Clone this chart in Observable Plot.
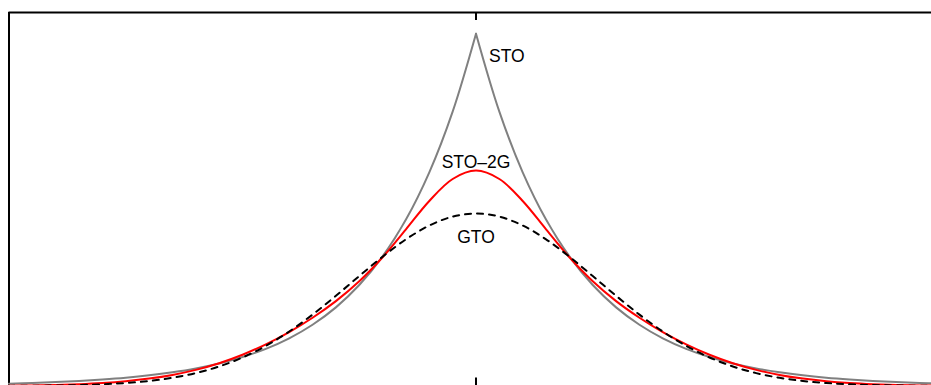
<!DOCTYPE html>
<html>
<head>
<meta charset="utf-8">
<script src="https://cdn.jsdelivr.net/npm/d3@7"></script>
<script src="https://cdn.jsdelivr.net/npm/@observablehq/plot@0.6"></script>
<style>
  html, body { margin: 0; padding: 0; background: #fff; }
  #chart svg { display: block; }
</style>
</head>
<body>
<div id="chart"></div>
<script>
// Radial coordinate r (bohr), sampled every 0.25 from -5 to 5
const r = [
  -5, -4.75, -4.5, -4.25, -4, -3.75, -3.5, -3.25, -3, -2.75, -2.5, -2.25, -2, -1.75, -1.5, -1.25, -1, -0.75, -0.5, -0.25,
  0,
  0.25, 0.5, 0.75, 1, 1.25, 1.5, 1.75, 2, 2.25, 2.5, 2.75, 3, 3.25, 3.5, 3.75, 4, 4.25, 4.5, 4.75, 5
];

// Slater-type orbital (cusp at the nucleus)
const sto = [
  0.0038, 0.0049, 0.0063, 0.0081, 0.0104, 0.0133, 0.0171, 0.0220, 0.0282, 0.0362, 0.0465, 0.0597, 0.0766, 0.0984, 0.1263, 0.1622, 0.2082, 0.2674, 0.3433, 0.4408,
  0.5660,
  0.4408, 0.3433, 0.2674, 0.2082, 0.1622, 0.1263, 0.0984, 0.0766, 0.0597, 0.0465, 0.0362, 0.0282, 0.0220, 0.0171, 0.0133, 0.0104, 0.0081, 0.0063, 0.0049, 0.0038
];

// Two-Gaussian contraction
const sto2g = [
  0.0006, 0.0010, 0.0017, 0.0029, 0.0048, 0.0077, 0.0119, 0.0178, 0.0259, 0.0366, 0.0502, 0.0669, 0.0866, 0.1096, 0.1363, 0.1682, 0.2068, 0.2517, 0.2972, 0.3325,
  0.3460,
  0.3325, 0.2972, 0.2517, 0.2068, 0.1682, 0.1363, 0.1096, 0.0866, 0.0669, 0.0502, 0.0366, 0.0259, 0.0178, 0.0119, 0.0077, 0.0048, 0.0029, 0.0017, 0.0010, 0.0006
];

// Single Gaussian-type orbital
const gto = [
  0.0002, 0.0004, 0.0008, 0.0015, 0.0028, 0.0048, 0.0081, 0.0132, 0.0207, 0.0314, 0.0458, 0.0645, 0.0875, 0.1147, 0.1449, 0.1766, 0.2077, 0.2356, 0.2578, 0.2721,
  0.2770,
  0.2721, 0.2578, 0.2356, 0.2077, 0.1766, 0.1449, 0.1147, 0.0875, 0.0645, 0.0458, 0.0314, 0.0207, 0.0132, 0.0081, 0.0048, 0.0028, 0.0015, 0.0008, 0.0004, 0.0002
];

// Curve labels and where they sit (data units)
const labelText = ["STO", "STO\u20132G", "GTO"];
const labelX = [0.14, 0, 0];
const labelY = [0.529, 0.360, 0.239];
const labelAnchor = ["start", "middle", "middle"];

// Axis limits and tick positions
const xDomain = [-5, 5];
const yDomain = [0, 0.6];
const xTicks = [0];

// Rows for the marks
const stoRows = [];
r.forEach((v, i) => {
  if (v <= 0) stoRows.push({r: v, psi: sto[i], side: "left"});
  if (v >= 0) stoRows.push({r: v, psi: sto[i], side: "right"});
});
const sto2gRows = r.map((v, i) => ({r: v, psi: sto2g[i]}));
const gtoRows = r.map((v, i) => ({r: v, psi: gto[i]}));
const labels = labelText.map((t, i) => ({t, x: labelX[i], y: labelY[i], a: labelAnchor[i]}));

const W = 931, H = 385;
const mTop = 12, mBottom = -0.5, mLeft = 8.5, mRight = -11.5;
const innerH = H - mTop - mBottom;
const tickLen = 8;
const font = "'Liberation Sans', Arial, Helvetica, sans-serif";

const chart = Plot.plot({
  width: W,
  height: H,
  marginTop: mTop,
  marginBottom: mBottom,
  marginLeft: mLeft,
  marginRight: mRight,
  style: {background: "#fff", fontFamily: font},
  x: {domain: xDomain, axis: null},
  y: {domain: yDomain, axis: null},
  marks: [
    // box: top and left edges
    Plot.ruleY([yDomain[1]], {stroke: "#000", strokeWidth: 2}),
    Plot.ruleX([xDomain[0]], {stroke: "#000", strokeWidth: 2}),
    // inward ticks on top and bottom edges
    Plot.ruleX(xTicks, {stroke: "#000", strokeWidth: 2, insetBottom: innerH - tickLen}),
    Plot.ruleX(xTicks, {stroke: "#000", strokeWidth: 2, insetTop: innerH - tickLen}),
    // curves
    Plot.line(stoRows, {x: "r", y: "psi", z: "side", stroke: "#808080", strokeWidth: 2, curve: "catmull-rom", strokeLinecap: "round", strokeLinejoin: "round"}),
    Plot.line(sto2gRows, {x: "r", y: "psi", stroke: "#ff0000", strokeWidth: 2, curve: "catmull-rom", strokeLinecap: "round", strokeLinejoin: "round"}),
    Plot.line(gtoRows, {x: "r", y: "psi", stroke: "#000", strokeWidth: 2, strokeDasharray: "6,6", curve: "catmull-rom", strokeLinecap: "round", strokeLinejoin: "round"}),
    // labels
    Plot.text(labels.filter(d => d.a === "start"), {x: "x", y: "y", text: "t", textAnchor: "start", lineAnchor: "middle", fontSize: 17.5, fill: "#000"}),
    Plot.text(labels.filter(d => d.a === "middle"), {x: "x", y: "y", text: "t", textAnchor: "middle", lineAnchor: "middle", fontSize: 17.5, fill: "#000"})
  ]
});

document.getElementById("chart").appendChild(chart);
</script>
</body>
</html>
